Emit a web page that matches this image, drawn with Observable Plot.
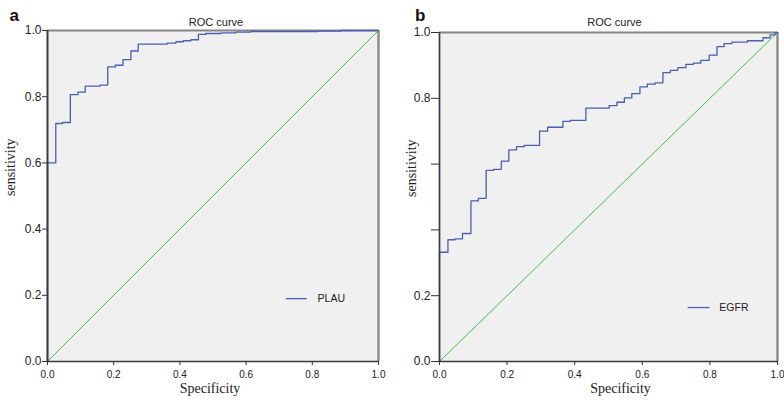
<!DOCTYPE html>
<html><head><meta charset="utf-8">
<script src="https://cdn.jsdelivr.net/npm/d3@7"></script>
<script src="https://cdn.jsdelivr.net/npm/@observablehq/plot@0.6"></script>
<style>
html,body{margin:0;padding:0;background:#fff;}
#wrap{position:relative;width:784px;height:402px;overflow:hidden;}
#wrap > div{position:absolute;top:0;}
</style></head><body><div id="wrap"><div id="pa" style="left:0"></div><div id="pb" style="left:392px"></div></div>
<script>
// ---- Data ----
const panelLetters = ["a", "b"];
const chartTitle = "ROC curve";
const xLabel = "Specificity";
const yLabel = "sensitivity";
const xTicks = [0, 0.2, 0.4, 0.6, 0.8, 1.0];
const yTicks = [0, 0.2, 0.4, 0.6, 0.8, 1.0];
const yTickLabelsA = [0, 0.2, 0.4, 0.6, 0.8, 1.0];
const yTickLabelsB = [0, 0.2, 0.8, 1.0];
const diagonal = [0, 1];

const plauName = "PLAU";
const plauFpr = [0, 0, 0.025, 0.045, 0.069, 0.092, 0.114, 0.159, 0.182, 0.205, 0.228, 0.252, 0.274, 0.362, 0.388, 0.410, 0.433, 0.456, 0.478, 0.524, 0.569, 0.614, 0.816, 0.886, 1.0];
const plauTpr = [0, 0.600, 0.719, 0.722, 0.806, 0.814, 0.832, 0.835, 0.890, 0.895, 0.912, 0.938, 0.959, 0.962, 0.966, 0.969, 0.972, 0.988, 0.991, 0.993, 0.995, 0.997, 0.998, 1.0, 1.0];

const egfrName = "EGFR";
const egfrFpr = [0, 0, 0.025, 0.046, 0.068, 0.093, 0.115, 0.138, 0.160, 0.183, 0.205, 0.228, 0.251, 0.296, 0.320, 0.365, 0.387, 0.433, 0.502, 0.525, 0.547, 0.569, 0.593, 0.615, 0.638, 0.661, 0.683, 0.705, 0.729, 0.751, 0.773, 0.798, 0.821, 0.842, 0.865, 0.911, 0.957, 0.978, 0.993, 1.0];
const egfrTpr = [0, 0.332, 0.370, 0.373, 0.389, 0.488, 0.496, 0.581, 0.584, 0.609, 0.643, 0.653, 0.657, 0.700, 0.712, 0.730, 0.733, 0.770, 0.778, 0.788, 0.801, 0.814, 0.835, 0.843, 0.847, 0.878, 0.885, 0.893, 0.903, 0.907, 0.915, 0.931, 0.957, 0.966, 0.971, 0.975, 0.984, 0.993, 1.0, 1.0];

const blue = "#4a5db5";
const green = "#3fbf4f";
const sans = "'Liberation Sans', Arial, sans-serif";
const serif = "'Liberation Serif', 'Times New Roman', serif";

function panel(cfg) {
  const pts = cfg.fpr.map((x, i) => ({x, y: cfg.tpr[i]}));
  const diag = diagonal.map(v => ({x: v, y: v}));
  return Plot.plot({
    width: 392, height: 402,
    marginLeft: cfg.ml, marginRight: cfg.mr, marginTop: cfg.mt, marginBottom: cfg.mb,
    x: {domain: [0, 1]},
    y: {domain: [0, 1]},
    style: {background: "#fff", fontFamily: sans, color: "#222", overflow: "visible"},
    marks: [
      Plot.frame({fill: "#f0f0f0", stroke: null}),
      Plot.ruleY([1], {stroke: "#858585", strokeWidth: 2}),
      Plot.ruleX([1], {stroke: "#8a8a8a", strokeWidth: 2.4}),
      Plot.line(diag, {x: "x", y: "y", stroke: green, strokeWidth: 1}),
      Plot.line(pts, {x: "x", y: "y", curve: "step-after", stroke: blue, strokeWidth: 1.3}),
      Plot.ruleX([0], {stroke: "#3a3a44", strokeWidth: cfg.leftW}),
      Plot.ruleY([0], {stroke: "#3a3a44", strokeWidth: 1.6}),
      Plot.axisY({ticks: yTicks, tickSize: cfg.yTickSize, tickPadding: 1, label: null,
        tickFormat: d => cfg.yLabels.includes(d) ? d.toFixed(1) : "",
        fontSize: 12, stroke: "#333"}),
      Plot.axisX({ticks: xTicks, tickSize: 4, tickPadding: 5, label: null,
        tickFormat: d => d.toFixed(1), fontSize: 10, stroke: "#333"}),
      // legend
      Plot.link([0], {x1: cfg.legX1, x2: cfg.legX2, y1: cfg.legY, y2: cfg.legY, stroke: blue, strokeWidth: 1.3}),
      Plot.text([cfg.name], {x: cfg.legTX, y: cfg.legY, textAnchor: "start", fontSize: 10.5, fill: "#222"}),
      // title and labels
      Plot.text([chartTitle], {frameAnchor: "top", dy: cfg.titleDy, dx: cfg.titleDx, fontSize: 11, fill: "#222"}),
      Plot.text([cfg.letter], {frameAnchor: "top-left", dx: cfg.letDx, dy: cfg.letDy, fontSize: 17, fontWeight: "bold", fill: "#111"}),
      Plot.text([xLabel], {frameAnchor: "bottom", dy: 31, dx: cfg.xlDx, fontSize: 14, fontFamily: serif, fill: "#222"}),
      Plot.text([yLabel], {frameAnchor: "left", dx: cfg.ylDx, rotate: -90, fontSize: 14, fontFamily: serif, fill: "#222"})
    ]
  });
}

document.getElementById("pa").appendChild(panel({
  letter: panelLetters[0], name: plauName, fpr: plauFpr, tpr: plauTpr, yLabels: yTickLabelsA,
  ml: 47, mr: 14, mt: 30, mb: 41, leftW: 2, yTickSize: 5,
  legX1: 0.72, legX2: 0.783, legY: 0.19, legTX: 0.816,
  titleDy: -12.5, titleDx: 3, letDx: -38, letDy: -22, xlDx: -3, ylDx: -37
}));
document.getElementById("pb").appendChild(panel({
  letter: panelLetters[1], name: egfrName, fpr: egfrFpr, tpr: egfrTpr, yLabels: yTickLabelsB,
  ml: 47, mr: 7, mt: 32, mb: 41, leftW: 1.7, yTickSize: 8,
  legX1: 0.734, legX2: 0.799, legY: 0.164, legTX: 0.828,
  titleDy: -14.5, titleDx: 6, letDx: -24.5, letDy: -24, xlDx: 12, ylDx: -28
}));
</script>
</body></html>
